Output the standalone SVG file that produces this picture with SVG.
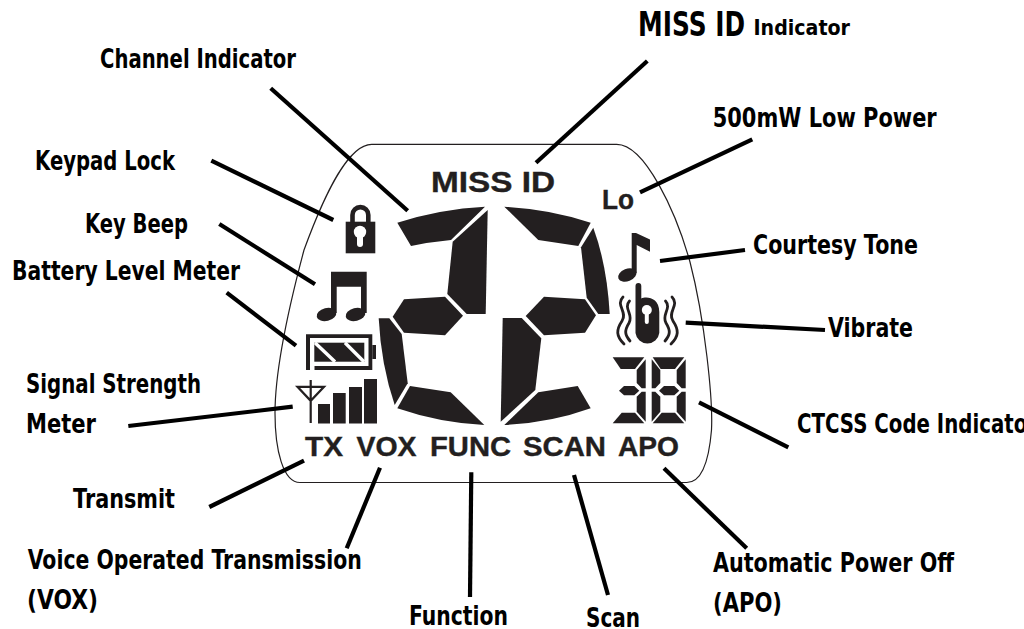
<svg xmlns="http://www.w3.org/2000/svg" width="1024" height="629" viewBox="0 0 1024 629">
<style>
.lb{font-family:"DejaVu Sans","Liberation Sans",sans-serif;font-weight:bold;font-size:26px;fill:#000}
.lcd{font-family:"Liberation Sans",Arial,sans-serif;font-weight:bold;font-size:28px;fill:#231f20;stroke:#231f20;stroke-width:.4}
.seg{fill:#231f20;stroke:none}
.ln{stroke:#000;stroke-width:4.2;fill:none}
.wave{fill:none;stroke:#231f20;stroke-width:2.8;stroke-linecap:round}
</style>
<defs>
<g id="small-hi">
<path d="M612.7,357.3H644.3L635,369H620.7Z"/>
<path d="M624,386H634.3L639.3,390.7L634.3,395.3H624L619,390.7Z"/>
<path d="M645.7,359.3V388.3H641.7L636.7,383V370Z"/>
<path d="M641.7,391.7H645.7V421.7L636.7,411.7V396.7Z"/>
<path d="M612.7,423.3H644.3L635,412.7H621.7Z"/>
</g>
</defs>
<g id="housing"><path d="M300,482.5H686.7C702,482.5 709,460 711.5,430C713,400 705,320 690,262C676,212 645,144.3 616.7,144.3H371.7C349,144.3 326,190 304,250C288,310 275,370 275,413C275,450 283,482.5 300,482.5Z" fill="none" stroke="#231f20" stroke-width="1.2"/></g>
<g id="connectors" class="ln">
<line x1="270.7" y1="88.3" x2="407.7" y2="210.7"/>
<line x1="211.3" y1="160.7" x2="333.3" y2="220"/>
<line x1="219.3" y1="224" x2="315" y2="284.3"/>
<line x1="226.7" y1="292.7" x2="296" y2="345.7"/>
<line x1="128.3" y1="426" x2="292.7" y2="406.7"/>
<line x1="209.3" y1="507" x2="304" y2="460.7"/>
<line x1="346.7" y1="548.3" x2="380" y2="467.7"/>
<line x1="471.3" y1="472.3" x2="470" y2="597"/>
<line x1="574" y1="475" x2="608" y2="595"/>
<line x1="664" y1="468.3" x2="746.7" y2="548.3"/>
<line x1="699" y1="402.3" x2="788.3" y2="447.3"/>
<line x1="685.7" y1="322.7" x2="825" y2="330"/>
<line x1="660" y1="261" x2="745" y2="250"/>
<line x1="640" y1="192.3" x2="752.3" y2="139.3"/>
<line x1="536" y1="162.7" x2="647.3" y2="61"/>
</g>
<g id="channel-digits" class="seg">
<path d="M397.3,222.7Q440,209 485,206.7L451,240Q430,242 411,246Z"/>
<path d="M487.7,210L485.7,314H466.7L447.3,294L452.7,241.7Z"/>
<path d="M404,299.3L445,296.7L463,315.7L445,335.3L404,332.7L392.7,316.7Z"/>
<path d="M378.7,318.3H389.3L401.7,334L407.7,383.3L394.7,405Q381,365 378.7,318.3Z"/>
<path d="M410,386L450.7,392.3L484.3,425Q440,423 397.3,408.3Z"/>
<path d="M504.3,206.7Q550,209 590.7,222.7L578.3,246L538.3,240Z"/>
<path d="M593.3,227.7Q607,265 609.7,314H598.3L586.7,297.7L581,247.3Z"/>
<path d="M544,296.7L585,299.3L596,315.3L585,332.7L544,335.3L525.7,316Z"/>
<path d="M502.7,318H521.7L541.3,338.3L535.3,390L500.7,421.7Z"/>
<path d="M504.3,425L538.3,392.3L577.7,386L590.7,408.3Q550,423 504.3,425Z"/>
</g>
<g id="ctcss-digits" class="seg">
<use href="#small-hi"/>
<use href="#small-hi" transform="translate(40,0)"/>
<path d="M651.7,359.3L660.3,370V383L655.3,388.3H651.7Z"/>
<path d="M651.7,391.7H655.3L660.3,396.7V411.7L651.7,421.7Z"/>
</g>
<g id="keypad-lock-icon" fill="#231f20">
<rect x="345.7" y="221.7" width="29.6" height="31.6"/>
<path d="M352.5,223V215A7.9,7.9 0 0 1 368.3,215V223" fill="none" stroke="#231f20" stroke-width="4.6"/>
<circle cx="360" cy="232" r="6.2" fill="#fff"/>
<rect x="357" y="232" width="6" height="15" rx="3" fill="#fff"/>
</g>
<g id="key-beep-icon" fill="#231f20">
<path d="M331,271.7H366.7V313H361V286.7H336.7V313H331Z"/>
<ellipse cx="326.5" cy="314.5" rx="10" ry="6.4" transform="rotate(-14 326.5 314.5)"/>
<ellipse cx="355.5" cy="314.5" rx="10" ry="6.4" transform="rotate(-14 355.5 314.5)"/>
</g>
<g id="battery-icon">
<path d="M306,370V334.3H372.3V370H314.5V366H368.5V338H310V370Z" fill="#231f20"/>
<rect x="372.3" y="345" width="3.7" height="14" fill="#231f20"/>
<rect x="314.3" y="342.7" width="50" height="19" fill="#231f20"/>
<path d="M315,342.7L335,361.7M345,342.7L364,361.7" stroke="#fff" stroke-width="3.4" fill="none"/>
</g>
<g id="signal-icon" fill="#231f20">
<path d="M310.7,380V423M297.5,386.8H324L310.7,400.8Z" fill="none" stroke="#231f20" stroke-width="2.2"/>
<rect x="318" y="404" width="12" height="19.5"/>
<rect x="333" y="393" width="12.7" height="30.5"/>
<rect x="349" y="387" width="13" height="36.5"/>
<rect x="364" y="379" width="13" height="44.5"/>
</g>
<g id="courtesy-tone-icon" fill="#231f20">
<path d="M631.7,233H636L650,239.5V251.7L636.7,245V273H631.7Z"/>
<ellipse cx="627.3" cy="275" rx="9.6" ry="6.2" transform="rotate(-22 627.3 275)"/>
</g>
<g id="vibrate-icon" fill="#231f20">
<path d="M635.5,286A2.7,2.7 0 0 1 641.3,286V298.5C646,296 659.3,297 659.3,312V333A12,12 0 0 1 635.5,333Z"/>
<circle cx="646.8" cy="310" r="5" fill="#fff"/>
<rect x="644.8" y="310" width="4" height="14" rx="2" fill="#fff"/>
<path class="wave" d="M623,297C615,305 628,312 622,321S616,336 624,344"/>
<path class="wave" d="M629.5,301C623,308 634,315 629,323S625,335 630,341"/>
<path class="wave" d="M665.5,301C672,308 661,315 666,323S670,335 665,341"/>
<path class="wave" d="M672,297C680,305 667,312 673,321S679,336 671,344"/>
</g>
<g id="lcd-text" class="lcd">
<text x="431" y="192" textLength="124" lengthAdjust="spacingAndGlyphs" style="font-size:30px">MISS ID</text>
<text x="602" y="209.3" textLength="32" lengthAdjust="spacingAndGlyphs">Lo</text>
<text x="305" y="456" textLength="38" lengthAdjust="spacingAndGlyphs">TX</text>
<text x="356.5" y="456" textLength="60" lengthAdjust="spacingAndGlyphs">VOX</text>
<text x="430" y="456" textLength="81" lengthAdjust="spacingAndGlyphs">FUNC</text>
<text x="523" y="456" textLength="83" lengthAdjust="spacingAndGlyphs">SCAN</text>
<text x="618" y="456" textLength="61" lengthAdjust="spacingAndGlyphs">APO</text>
</g>
<g id="label-miss-id" class="lb"><text x="638" y="36" style="font-size:33px" textLength="107" lengthAdjust="spacingAndGlyphs">MISS ID</text><text x="753.5" y="35" style="font-size:22px" textLength="96.5" lengthAdjust="spacingAndGlyphs">Indicator</text></g>
<g id="label-channel" class="lb"><text x="100" y="68" textLength="196" lengthAdjust="spacingAndGlyphs">Channel Indicator</text></g>
<g id="label-keypad" class="lb"><text x="35" y="170" textLength="140" lengthAdjust="spacingAndGlyphs">Keypad Lock</text></g>
<g id="label-beep" class="lb"><text x="85" y="233" textLength="103" lengthAdjust="spacingAndGlyphs">Key Beep</text></g>
<g id="label-battery" class="lb"><text x="12" y="280" textLength="228" lengthAdjust="spacingAndGlyphs">Battery Level Meter</text></g>
<g id="label-signal" class="lb"><text x="26" y="393" textLength="175" lengthAdjust="spacingAndGlyphs">Signal Strength</text><text x="26" y="433" textLength="70" lengthAdjust="spacingAndGlyphs">Meter</text></g>
<g id="label-transmit" class="lb"><text x="73" y="508" textLength="102" lengthAdjust="spacingAndGlyphs">Transmit</text></g>
<g id="label-vox" class="lb"><text x="27.7" y="569" textLength="334" lengthAdjust="spacingAndGlyphs">Voice Operated Transmission</text><text x="27" y="609" textLength="71" lengthAdjust="spacingAndGlyphs">(VOX)</text></g>
<g id="label-function" class="lb"><text x="409" y="625" textLength="99" lengthAdjust="spacingAndGlyphs">Function</text></g>
<g id="label-scan" class="lb"><text x="586" y="627" textLength="54" lengthAdjust="spacingAndGlyphs">Scan</text></g>
<g id="label-apo" class="lb"><text x="713" y="571.7" textLength="241" lengthAdjust="spacingAndGlyphs">Automatic Power Off</text><text x="713" y="611.7" textLength="69" lengthAdjust="spacingAndGlyphs">(APO)</text></g>
<g id="label-ctcss" class="lb"><text x="797" y="433" textLength="240" lengthAdjust="spacingAndGlyphs">CTCSS Code Indicator</text></g>
<g id="label-vibrate" class="lb"><text x="828" y="337" textLength="85" lengthAdjust="spacingAndGlyphs">Vibrate</text></g>
<g id="label-courtesy" class="lb"><text x="753" y="254" textLength="165" lengthAdjust="spacingAndGlyphs">Courtesy Tone</text></g>
<g id="label-lowpower" class="lb"><text x="712.7" y="127" textLength="224" lengthAdjust="spacingAndGlyphs">500mW Low Power</text></g>
</svg>
